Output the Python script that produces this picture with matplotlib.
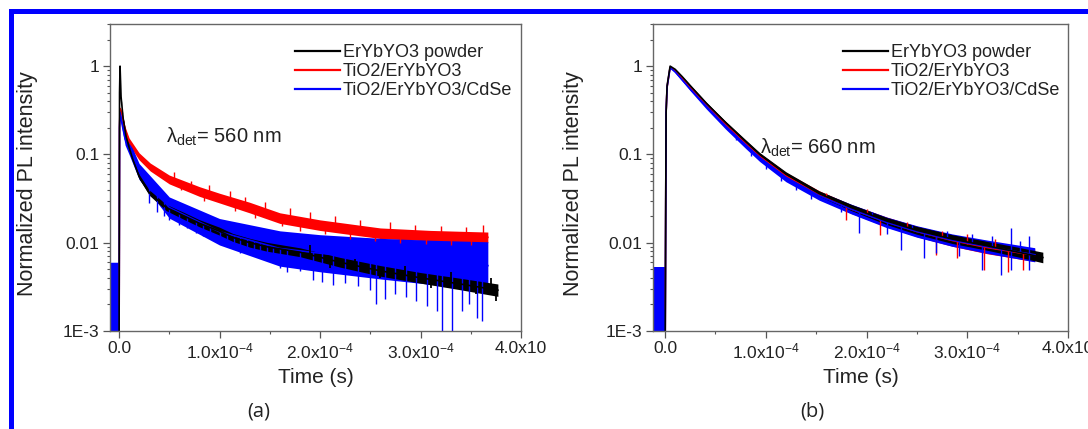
import numpy as np
import matplotlib
matplotlib.use("Agg")
import matplotlib.pyplot as plt
from matplotlib.lines import Line2D
from matplotlib.patches import Rectangle
from matplotlib.ticker import FixedLocator, LogLocator, MultipleLocator, NullFormatter

plt.rcParams["font.family"] = ["Liberation Sans", "DejaVu Sans"]
plt.rcParams["mathtext.fontset"] = "custom"
plt.rcParams["mathtext.rm"] = "Liberation Sans"
plt.rcParams["mathtext.it"] = "Liberation Sans:italic"
plt.rcParams["mathtext.bf"] = "Liberation Sans:bold"

labels = ["ErYbYO3 powder", "TiO2/ErYbYO3", "TiO2/ErYbYO3/CdSe"]
colors = ["black", "red", "blue"]

xtick_vals = [0, 1e-4, 2e-4, 3e-4, 4e-4]
xtick_labels = ["0.0", "1.0x10$^{\\mathregular{-4}}$", "2.0x10$^{\\mathregular{-4}}$",
                "3.0x10$^{\\mathregular{-4}}$", "4.0x10"]
ytick_vals = [1e-3, 1e-2, 0.1, 1]
ytick_labels = ["1E-3", "0.01", "0.1", "1"]

# time in units of 1e-4 s, value = normalized PL, spread = noise half-width (decades)
# (a) lambda_det = 560 nm
t_a_black = [0, 0.005, 0.01, 0.02, 0.04, 0.07, 0.10, 0.14, 0.2, 0.3, 0.47, 0.65, 0.8, 1.0,
             1.13, 1.3, 1.47, 1.8, 2.2, 2.6, 3.0, 3.4, 3.77]
v_a_black = [4e-4, 0.5, 1.0, 0.45, 0.26, 0.16, 0.12, 0.086, 0.056, 0.037, 0.025, 0.020, 0.0166,
             0.0135, 0.0115, 0.010, 0.009, 0.0078, 0.0060, 0.0048, 0.0040, 0.0034, 0.0029]
s_a_black = [0, 0, 0, 0.01, 0.01, 0.015, 0.02, 0.02, 0.025, 0.03, 0.035, 0.04, 0.04, 0.045,
             0.045, 0.05, 0.05, 0.05, 0.055, 0.06, 0.06, 0.065, 0.07]

t_a_red = [0, 0.005, 0.01, 0.03, 0.06, 0.1, 0.2, 0.31, 0.5, 0.8, 1.0, 1.3, 1.6, 2.0, 2.6, 3.1, 3.67]
v_a_red = [4e-4, 0.2, 0.33, 0.28, 0.19, 0.14, 0.095, 0.072, 0.052, 0.038, 0.032, 0.025, 0.019,
           0.0158, 0.0128, 0.0120, 0.0115]
s_a_red = [0, 0, 0.02, 0.03, 0.035, 0.04, 0.04, 0.045, 0.05, 0.055, 0.055, 0.06, 0.06, 0.06,
           0.06, 0.06, 0.06]

t_a_blue = [-0.09, -0.005, 0, 0.005, 0.01, 0.03, 0.06, 0.1, 0.2, 0.5, 1.0, 1.6, 2.0, 2.6, 3.1, 3.67]
v_a_blue = [0.0019, 0.0019, 4e-4, 0.2, 0.30, 0.22, 0.15, 0.12, 0.064, 0.025, 0.0133, 0.0086,
            0.0076, 0.0066, 0.0060, 0.0055]
s_a_blue = [0.5, 0.5, 0, 0, 0.02, 0.05, 0.07, 0.08, 0.09, 0.12, 0.15, 0.2, 0.21, 0.23, 0.25, 0.27]

# noise spikes (tip values)
spike_a_blue_t = [0.3, 0.38, 0.45, 0.5, 0.6, 0.68, 0.77, 0.84, 0.91, 1.0, 1.07, 1.14, 1.20, 1.27,
                  1.34, 1.40, 1.47, 1.53, 1.60, 1.67, 1.80, 1.93, 2.02, 2.13, 2.25, 2.38, 2.50,
                  2.56, 2.65, 2.75, 2.86, 2.96, 3.06, 3.16, 3.21, 3.31, 3.41, 3.48, 3.56, 3.61]
spike_a_blue_v = [0.028, 0.022, 0.020, 0.018, 0.016, 0.0145, 0.0128, 0.0120, 0.0112, 0.0105,
                  0.0099, 0.0088, 0.0076, 0.0080, 0.0076, 0.0070, 0.0064, 0.0060, 0.0052, 0.0047,
                  0.0048, 0.0038, 0.0036, 0.0033, 0.0035, 0.0032, 0.0029, 0.0020, 0.0023, 0.0026,
                  0.0024, 0.0022, 0.0019, 0.0017, 0.0009, 0.0009, 0.0017, 0.0020, 0.0014, 0.0013]
spike_a_red_t = [0.55, 0.62, 0.72, 0.85, 0.9, 1.1, 1.15, 1.25, 1.35, 1.45, 1.62, 1.7, 1.8, 1.9,
                 2.05, 2.15, 2.3, 2.4, 2.55, 2.7, 2.8, 2.95, 3.05, 3.2, 3.3, 3.45, 3.5, 3.62]
spike_a_red_v = [0.064, 0.040, 0.050, 0.030, 0.045, 0.039, 0.023, 0.033, 0.019, 0.029, 0.0155,
                 0.025, 0.0135, 0.022, 0.0125, 0.020, 0.011, 0.018, 0.0105, 0.017, 0.0100, 0.016,
                 0.0097, 0.0155, 0.0095, 0.0152, 0.0093, 0.016]
spike_a_black_t = [1.9, 2.1, 2.35, 2.6, 2.85, 3.1, 3.3, 3.55, 3.7, 3.75]
spike_a_black_v = [0.0095, 0.0052, 0.0066, 0.0040, 0.0055, 0.0031, 0.0047, 0.0026, 0.0040, 0.0022]

# (b) lambda_det = 660 nm
t_b_black = [0, 0.01, 0.02, 0.05, 0.1, 0.17, 0.25, 0.41, 0.6, 0.8, 0.94, 1.2, 1.53, 1.85, 2.2,
             2.5, 2.85, 3.2, 3.51, 3.75]
v_b_black = [4e-4, 0.3, 0.6, 1.0, 0.92, 0.76, 0.60, 0.38, 0.23, 0.14, 0.10, 0.060, 0.036, 0.025,
             0.0176, 0.0138, 0.011, 0.0092, 0.0078, 0.0068]
s_b_black = [0, 0, 0, 0, 0.005, 0.005, 0.01, 0.01, 0.015, 0.02, 0.02, 0.025, 0.03, 0.035, 0.04,
             0.045, 0.05, 0.05, 0.055, 0.06]

t_b_red = [0, 0.01, 0.02, 0.05, 0.1, 0.25, 0.41, 0.6, 0.8, 0.94, 1.2, 1.53, 1.85, 2.2, 2.5, 2.85,
           3.2, 3.67]
v_b_red = [4e-4, 0.3, 0.58, 0.97, 0.88, 0.57, 0.36, 0.22, 0.133, 0.095, 0.057, 0.035, 0.024,
           0.0172, 0.0134, 0.0106, 0.0088, 0.0072]
s_b_red = [0, 0, 0, 0, 0.01, 0.02, 0.02, 0.03, 0.03, 0.035, 0.04, 0.045, 0.05, 0.055, 0.06, 0.065,
           0.07, 0.07]

t_b_blue = [-0.12, -0.005, 0, 0.01, 0.02, 0.05, 0.1, 0.25, 0.41, 0.6, 0.8, 0.94, 1.2, 1.53, 1.85,
            2.2, 2.5, 2.85, 3.2, 3.67]
v_b_blue = [0.0017, 0.0017, 4e-4, 0.3, 0.58, 0.96, 0.86, 0.55, 0.35, 0.21, 0.128, 0.092, 0.055,
            0.034, 0.024, 0.017, 0.0134, 0.0107, 0.009, 0.0073]
s_b_blue = [0.5, 0.5, 0, 0, 0, 0, 0.01, 0.02, 0.03, 0.035, 0.04, 0.045, 0.05, 0.05, 0.055, 0.06,
            0.065, 0.07, 0.075, 0.08]

spike_b_blue_t = [0.7, 0.85, 1.0, 1.15, 1.3, 1.45, 1.6, 1.75, 1.93, 2.05, 2.2, 2.34, 2.45, 2.57,
                  2.69, 2.8, 2.92, 3.05, 3.15, 3.25, 3.33, 3.43, 3.52, 3.61, 3.43, 3.61]
spike_b_blue_v = [0.145, 0.095, 0.068, 0.050, 0.040, 0.031, 0.030, 0.022, 0.0128, 0.0225, 0.0125,
                  0.0083, 0.016, 0.0067, 0.0076, 0.0135, 0.0070, 0.0125, 0.0049, 0.0118, 0.0043,
                  0.0049, 0.0105, 0.0049, 0.0146, 0.0119]
spike_b_red_t = [1.6, 1.8, 2.0, 2.13, 2.4, 2.69, 2.75, 2.90, 3.0, 3.17, 3.28, 3.40, 3.55]
spike_b_red_v = [0.037, 0.018, 0.024, 0.0122, 0.017, 0.0072, 0.0135, 0.0067, 0.0125, 0.0049,
                 0.0110, 0.0047, 0.0049]


def draw_trace(ax, t, v, s, color):
    t = np.array(t) * 1e-4
    v = np.array(v)
    s = np.array(s)
    ax.fill_between(t, v / 10 ** s, v * 10 ** s, color=color, lw=0)
    ax.plot(t, v, color=color, lw=1.2)


def draw_spikes(ax, t, v, t_ref, v_ref, color, lw=1.0):
    # each spike runs from the trace level to its read-off tip
    base = 10 ** np.interp(t, t_ref, np.log10(v_ref))
    ax.vlines(np.array(t) * 1e-4, v, base, color=color, lw=lw)


def style_axes(ax, xmin, ylabel_x):
    ax.set_yscale("log")
    ax.set_xlim(xmin * 1e-4, 4e-4)
    ax.set_ylim(1e-3, 3)
    ax.xaxis.set_major_locator(FixedLocator(xtick_vals))
    ax.set_xticklabels(xtick_labels)
    ax.xaxis.set_minor_locator(MultipleLocator(0.5e-4))
    ax.yaxis.set_major_locator(FixedLocator(ytick_vals))
    ax.set_yticklabels(ytick_labels)
    ax.yaxis.set_minor_locator(LogLocator(base=10, subs=np.arange(2, 10)))
    ax.yaxis.set_minor_formatter(NullFormatter())
    ax.tick_params(which="major", direction="out", length=5, width=0.9, color="#555555",
                   labelsize=12.5, labelcolor="#222222", pad=2.5)
    ax.tick_params(which="minor", direction="out", length=2.5, width=0.8, color="#555555")
    for sp in ax.spines.values():
        sp.set_color("#666666")
        sp.set_linewidth(1.0)
    ax.set_xlabel("Time (s)", fontsize=15, color="#222222")
    ax.set_ylabel("Normalized PL intensity", fontsize=15.5, color="#222222")
    ax.xaxis.set_label_coords(0.5, -0.12)
    ax.yaxis.set_label_coords(ylabel_x, 0.48)


fig = plt.figure(figsize=(10.88, 4.29), dpi=100)
ax_a = fig.add_axes([110 / 1088, 98 / 429, 411 / 1088, 307 / 429])
ax_b = fig.add_axes([653 / 1088, 98 / 429, 415 / 1088, 307 / 429])

# panel (a)
draw_trace(ax_a, t_a_red, v_a_red, s_a_red, "red")
draw_spikes(ax_a, spike_a_red_t, spike_a_red_v, t_a_red[3:], v_a_red[3:], "red")
draw_trace(ax_a, t_a_blue, v_a_blue, s_a_blue, "blue")
draw_spikes(ax_a, spike_a_blue_t, spike_a_blue_v, t_a_blue[3:], v_a_blue[3:], "blue")
draw_trace(ax_a, t_a_black, v_a_black, s_a_black, "black")
draw_spikes(ax_a, spike_a_black_t, spike_a_black_v, t_a_black[3:], v_a_black[3:], "black", 1.3)
style_axes(ax_a, -0.09, -0.175)
ax_a.text(0.136, 0.612, "λ$_{\\mathregular{det}}$= 560 nm", transform=ax_a.transAxes,
          fontsize=14.5, color="#222222", va="baseline")

# panel (b)
draw_trace(ax_b, t_b_red, v_b_red, s_b_red, "red")
draw_spikes(ax_b, spike_b_red_t, spike_b_red_v, t_b_red[3:], v_b_red[3:], "red")
draw_trace(ax_b, t_b_blue, v_b_blue, s_b_blue, "blue")
draw_spikes(ax_b, spike_b_blue_t, spike_b_blue_v, t_b_blue[3:], v_b_blue[3:], "blue")
draw_trace(ax_b, t_b_black, v_b_black, s_b_black, "black")
style_axes(ax_b, -0.12, -0.166)
ax_b.text(0.258, 0.577, "λ$_{\\mathregular{det}}$= 660 nm", transform=ax_b.transAxes,
          fontsize=14.5, color="#222222", va="baseline")

for ax, x0 in [(ax_a, 0.45), (ax_b, 0.458)]:
    handles = [Line2D([], [], color=c, lw=1.6) for c in colors]
    leg = ax.legend(handles, labels, loc="upper left", bbox_to_anchor=(x0, 0.935),
                    frameon=False, fontsize=13, handlelength=2.5, handletextpad=0.15,
                    labelspacing=0.12, borderpad=0, borderaxespad=0)
    for txt in leg.get_texts():
        txt.set_color("#222222")

fig.text(259 / 1088, 1 - 412 / 429, "(a)", fontsize=14.5, family="Open Sans",
         ha="center", va="center", color="#222222")
fig.text(812 / 1088, 1 - 412 / 429, "(b)", fontsize=14.5, family="Open Sans",
         ha="center", va="center", color="#222222")

# blue frame round the figure (top and left edges)
fig.add_artist(Rectangle((8.5 / 1088, 1 - 14 / 429), 1 - 8.5 / 1088, 4.5 / 429,
                         transform=fig.transFigure, color="#0000ff", lw=0))
fig.add_artist(Rectangle((8.5 / 1088, 0), 5 / 1088, 1 - 9.5 / 429,
                         transform=fig.transFigure, color="#0000ff", lw=0))

fig.savefig("out.png", dpi=100)
